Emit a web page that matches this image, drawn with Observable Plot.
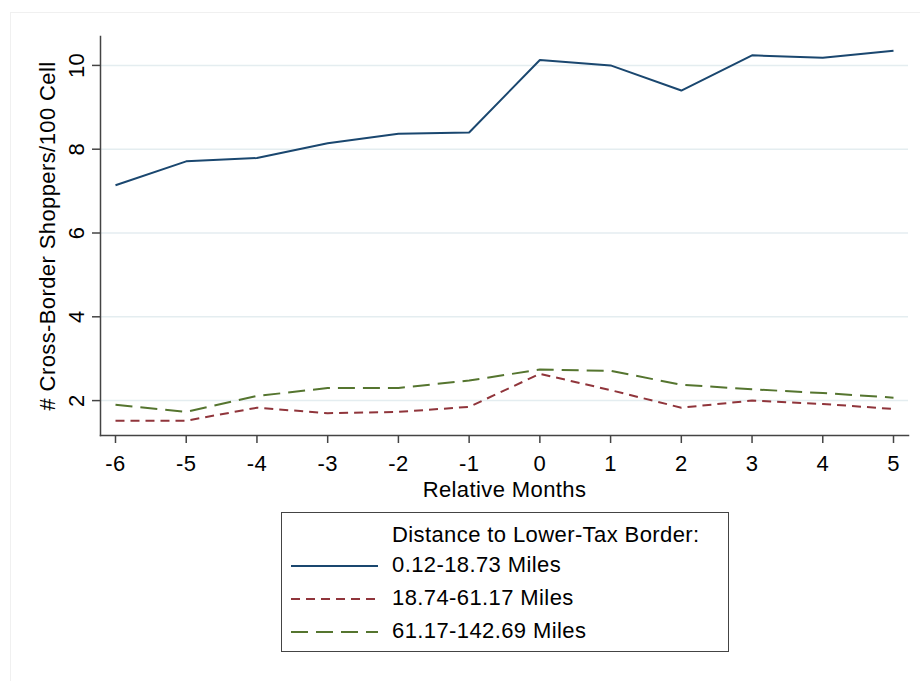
<!DOCTYPE html>
<html>
<head>
<meta charset="utf-8">
<script src="https://cdn.jsdelivr.net/npm/d3@7"></script>
<script src="https://cdn.jsdelivr.net/npm/@observablehq/plot@0.6"></script>
<style>
  html, body { margin: 0; padding: 0; background: #fff; }
  #wrap { position: relative; width: 920px; height: 681px; overflow: hidden; font-family: "Liberation Sans", Arial, sans-serif; }
  #region { position: absolute; left: 10px; top: 12px; width: 940px; height: 700px; border: 1px solid #f0f0f0; box-sizing: border-box; }
  #chart { position: absolute; left: 0; top: 0; }
  #chart svg text { letter-spacing: 0.4px; }
  #legend { position: absolute; left: 281px; top: 512px; width: 448px; height: 140px; border: 1.5px solid #444; box-sizing: border-box; background: #fff; }
  #legend .t { position: absolute; left: 110px; font-size: 22px; letter-spacing: 0.4px; line-height: 1; color: #000; white-space: nowrap; }
  #legend svg { position: absolute; left: 0; top: 0; }
</style>
</head>
<body>
<div id="wrap">
  <div id="region"></div>
  <div id="chart"></div>
  <div id="legend"></div>
</div>
<script>
const months = [-6, -5, -4, -3, -2, -1, 0, 1, 2, 3, 4, 5];
const near   = [7.14, 7.71, 7.79, 8.14, 8.37, 8.40, 10.13, 10.00, 9.40, 10.24, 10.18, 10.35];
const middle = [1.52, 1.52, 1.83, 1.70, 1.73, 1.85, 2.64, 2.25, 1.83, 2.00, 1.92, 1.80];
const far    = [1.90, 1.73, 2.11, 2.30, 2.30, 2.48, 2.74, 2.71, 2.38, 2.27, 2.18, 2.07];
const seriesNames = ["0.12-18.73 Miles", "18.74-61.17 Miles", "61.17-142.69 Miles"];
const seriesColors = ["#1a476f", "#90353b", "#55752f"];
const seriesDash = [null, "9,6", "17,8"];
const yTicks = [2, 4, 6, 8, 10];
const legendTitle = "Distance to Lower-Tax Border:";

const values = [near, middle, far];
const rows = [];
values.forEach((arr, s) => arr.forEach((v, i) => rows.push({month: months[i], value: v, series: seriesNames[s]})));

const fmt = d => (d < 0 ? "-" + Math.abs(d) : String(d));

const lineMarks = seriesNames.map((name, s) =>
  Plot.line(rows.filter(r => r.series === name), {
    x: "month", y: "value",
    stroke: seriesColors[s], strokeWidth: 2,
    strokeDasharray: seriesDash[s] || undefined,
    strokeLinejoin: "miter", strokeLinecap: "butt"
  })
);

const chart = Plot.plot({
  width: 920, height: 500,
  marginLeft: 100, marginRight: 12, marginTop: 36, marginBottom: 65,
  style: { fontFamily: '"Liberation Sans", Arial, sans-serif', fontSize: "22px", color: "#000", background: "transparent", overflow: "visible" },
  x: { domain: [-6.212, 5.212] },
  y: { domain: [1.167, 10.69] },
  marks: [
    Plot.gridY(yTicks, { stroke: "#e4edf0", strokeOpacity: 1, strokeWidth: 1.5 }),
    ...lineMarks,
    Plot.frame({ anchor: "left", stroke: "#444", strokeWidth: 1.5 }),
    Plot.frame({ anchor: "bottom", stroke: "#444", strokeWidth: 1.5 }),
    Plot.axisX(months, { tickSize: 8, tickPadding: 12, tickFormat: fmt, stroke: "#444", strokeWidth: 1.5,
      label: "Relative Months", labelAnchor: "center", labelOffset: 61, labelArrow: "none" }),
    Plot.axisY(yTicks, { tickSize: 8, tickPadding: 9, tickRotate: -90, tickFormat: fmt, stroke: "#444", strokeWidth: 1.5,
      label: "# Cross-Border Shoppers/100 Cell", labelAnchor: "center", labelOffset: 61, labelArrow: "none" })
  ]
});
document.getElementById("chart").appendChild(chart);

// legend
const legend = document.getElementById("legend");
const ns = "http://www.w3.org/2000/svg";
const lsvg = document.createElementNS(ns, "svg");
lsvg.setAttribute("width", 448); lsvg.setAttribute("height", 140);
legend.appendChild(lsvg);
const title = document.createElement("div");
title.className = "t"; title.textContent = legendTitle; title.style.top = "11px";
legend.appendChild(title);
const rowY = [53, 86, 119];
seriesNames.forEach((name, s) => {
  const ln = document.createElementNS(ns, "line");
  ln.setAttribute("x1", 9); ln.setAttribute("x2", 96);
  ln.setAttribute("y1", rowY[s]); ln.setAttribute("y2", rowY[s]);
  ln.setAttribute("stroke", seriesColors[s]); ln.setAttribute("stroke-width", 2);
  if (seriesDash[s]) ln.setAttribute("stroke-dasharray", seriesDash[s]);
  lsvg.appendChild(ln);
  const t = document.createElement("div");
  t.className = "t"; t.textContent = name; t.style.top = (rowY[s] - 12) + "px";
  legend.appendChild(t);
});
</script>
</body>
</html>
